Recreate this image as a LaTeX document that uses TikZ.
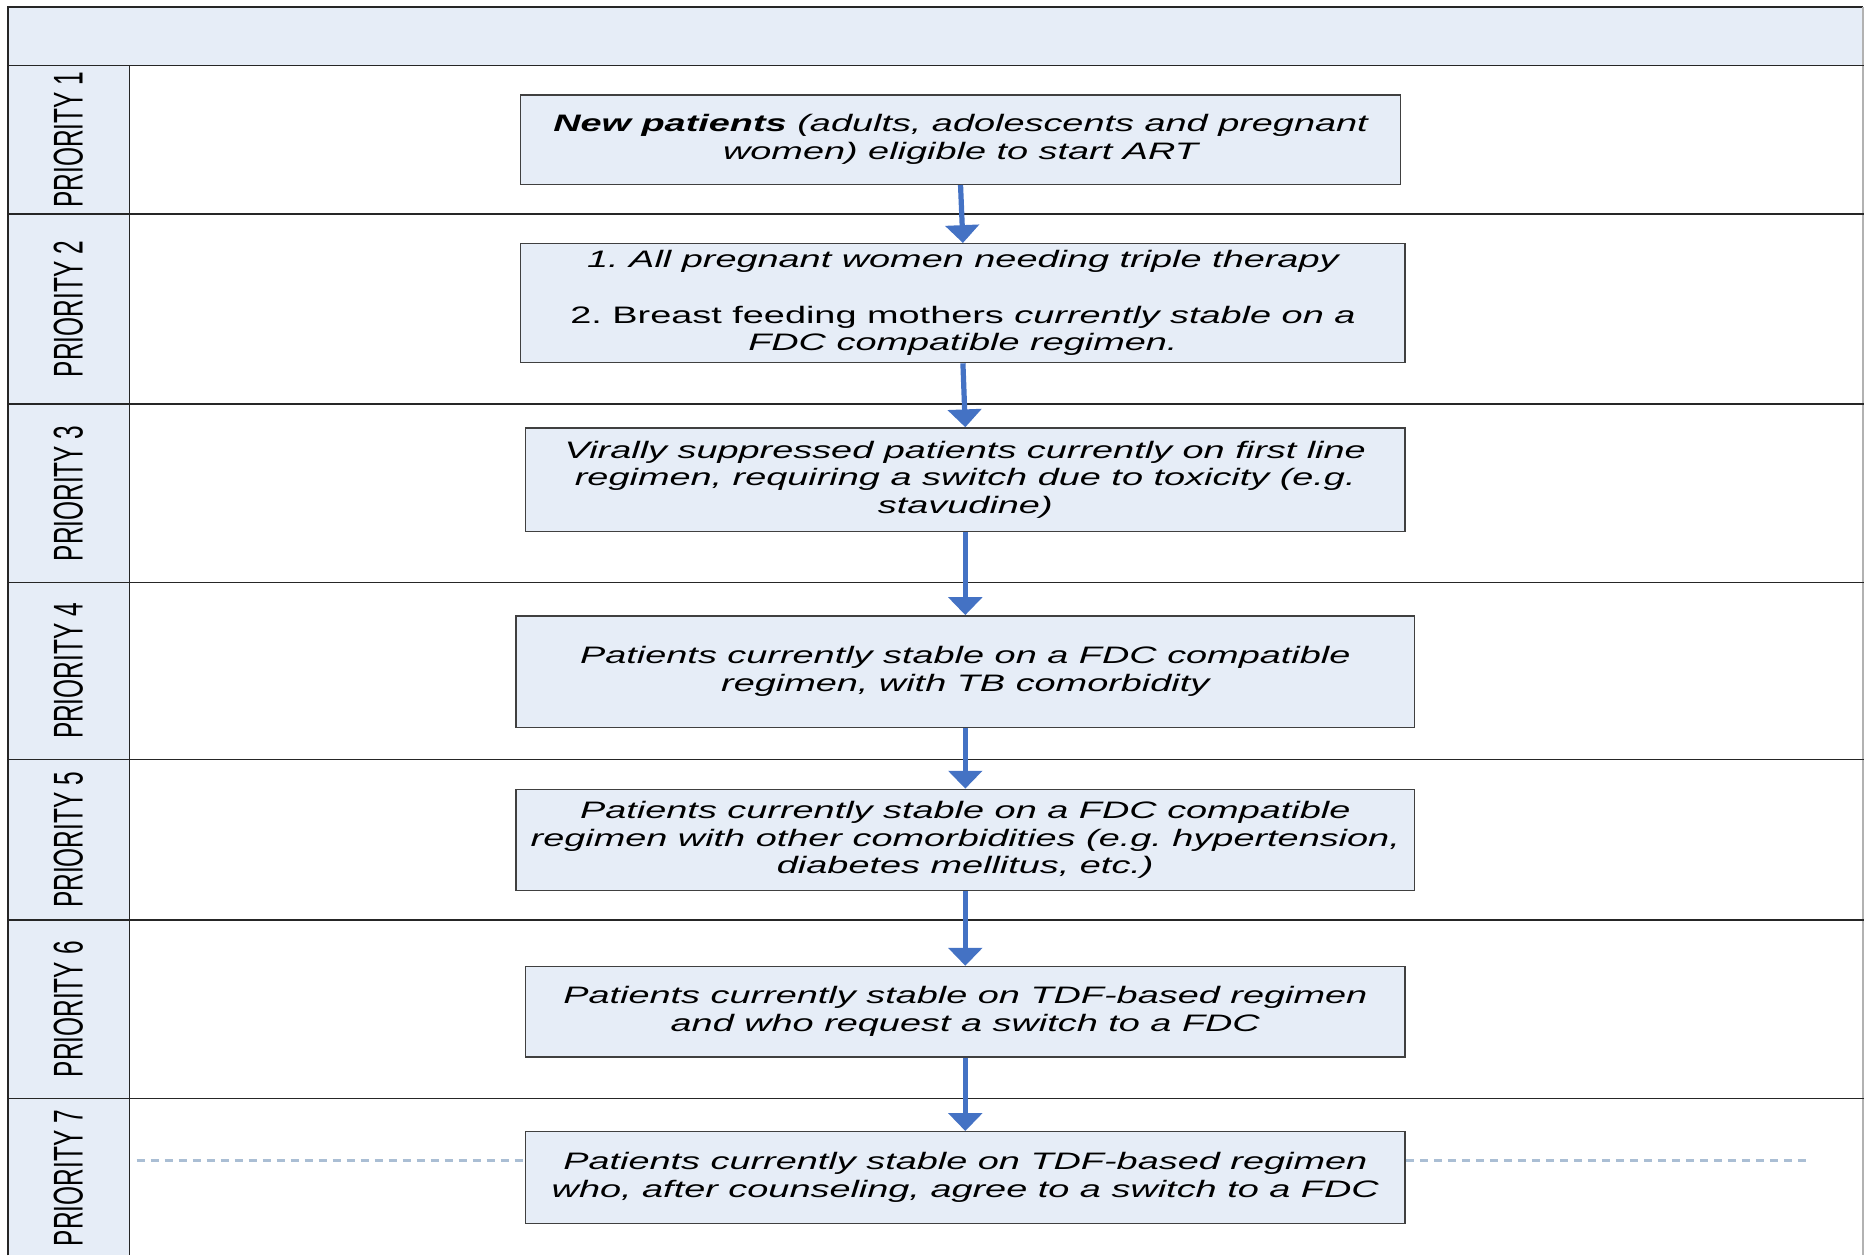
\documentclass[tikz,border=0pt]{standalone}
\usepackage{fontspec}
\setmainfont{Liberation Sans}[FakeStretch=1.59]
\newfontfamily\lanefont{Liberation Sans}
\usetikzlibrary{arrows.meta}
\frenchspacing

\definecolor{paleblue}{RGB}{230,237,247}
\definecolor{arrowblue}{RGB}{68,114,196}
\definecolor{dashblue}{RGB}{170,190,212}

\tikzset{
  prio/.style={draw=black!75, fill=paleblue, line width=0.7pt, align=center,
    inner sep=0pt, font=\itshape\fontsize{11.4}{13.3}\selectfont},
  lane/.style={rotate=90, inner sep=0pt, font=\lanefont\fontsize{11.7}{14}\selectfont},
  flow/.style={draw=arrowblue, line width=2.5pt, -{Triangle[width=0.56cm,length=0.3cm]}},
  rim/.style={draw=black!85, line width=0.8pt},
  guide/.style={draw=dashblue, line width=1.3pt, dash pattern=on 3.8pt off 2.9pt}
}

\newcommand{\lanetext}[1]{\scalebox{1}[1.7]{#1}}

\begin{document}
\begin{tikzpicture}

\useasboundingbox (0,0) rectangle (31.36,-21.12) ;

% header band and priority column
\fill [paleblue] (0.14,-0.12) rectangle (31.34,-1.10) ;
\fill [paleblue] (0.14,-1.10) rectangle (2.18,-21.12) ;

\draw [rim] (0.14,-21.12) to (0.14,-0.12) to (31.34,-0.12) ;
\draw [draw=black!30, line width=0.8pt] (31.34,-0.12) to (31.34,-21.12) ;
\draw [rim] (0.14,-1.10) to (31.36,-1.10) ;
\draw [rim] (2.18,-1.10) to (2.18,-21.12) ;

\draw [rim] (0.14,-3.60) to (31.36,-3.60) ;
\draw [rim] (0.14,-6.80) to (31.36,-6.80) ;
\draw [rim] (0.14,-9.80) to (31.36,-9.80) ;
\draw [rim] (0.14,-12.78) to (31.36,-12.78) ;
\draw [rim] (0.14,-15.48) to (31.36,-15.48) ;
\draw [rim] (0.14,-18.48) to (31.36,-18.48) ;

\node [lane] (p1) at (1.15,-2.35) {\lanetext{PRIORITY 1}} ;
\node [lane] (p2) at (1.15,-5.20) {\lanetext{PRIORITY 2}} ;
\node [lane] (p3) at (1.15,-8.30) {\lanetext{PRIORITY 3}} ;
\node [lane] (p4) at (1.15,-11.29) {\lanetext{PRIORITY 4}} ;
\node [lane] (p5) at (1.15,-14.13) {\lanetext{PRIORITY 5}} ;
\node [lane] (p6) at (1.15,-16.98) {\lanetext{PRIORITY 6}} ;
\node [lane] (p7) at (1.15,-19.82) {\lanetext{PRIORITY 7}} ;

% patient groups
\node [prio, minimum width=14.8cm, minimum height=1.5cm] (b1) at (16.16,-2.35)
  {\textbf{New patients} (adults, adolescents and pregnant\\ women) eligible to start ART} ;
\node [prio, minimum width=14.88cm, minimum height=2.0cm] (b2) at (16.20,-5.10)
  {1. All pregnant women needing triple therapy\\[13.3pt]
   \textup{2. Breast feeding mothers} currently stable on a\\ FDC compatible regimen.} ;
\node [prio, minimum width=14.8cm, minimum height=1.74cm] (b3) at (16.24,-8.07)
  {Virally suppressed patients currently on first line\\ regimen, requiring a switch due to toxicity (e.g.\\ stavudine)} ;
\node [prio, minimum width=15.12cm, minimum height=1.88cm] (b4) at (16.24,-11.30)
  {Patients currently stable on a FDC compatible\\ regimen, with TB comorbidity} ;
\node [prio, minimum width=15.12cm, minimum height=1.70cm] (b5) at (16.24,-14.13)
  {Patients currently stable on a FDC compatible\\ regimen with other comorbidities (e.g. hypertension,\\ diabetes mellitus, etc.)} ;
\node [prio, minimum width=14.8cm, minimum height=1.52cm] (b6) at (16.24,-17.02)
  {Patients currently stable on TDF-based regimen\\ and who request a switch to a FDC} ;
\node [prio, minimum width=14.8cm, minimum height=1.54cm] (b7) at (16.24,-19.81)
  {Patients currently stable on TDF-based regimen\\ who, after counseling, agree to a switch to a FDC} ;

\draw [flow] (b1.south) to (b2.north) ;
\draw [flow] (b2.south) to (b3.north) ;
\draw [flow] (b3.south) to (b4.north) ;
\draw [flow] (b4.south) to (b5.north) ;
\draw [flow] (b5.south) to (b6.north) ;
\draw [flow] (b6.south) to (b7.north) ;

\coordinate (gl) at (2.30,-19.52) ;
\coordinate (gr) at (30.44,-19.52) ;
\draw [guide] (gl) to (gl -| b7.west) ;
\draw [guide] (gr -| b7.east) to (gr) ;

\end{tikzpicture}
\end{document}
